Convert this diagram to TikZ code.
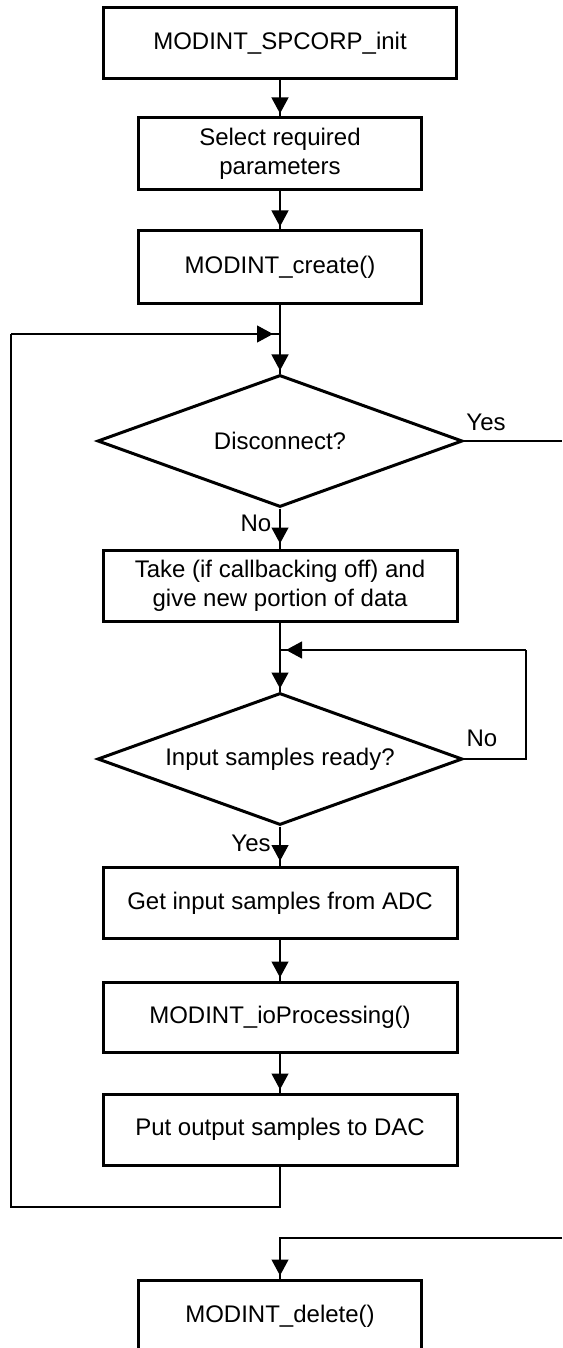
\documentclass[tikz,border=0pt]{standalone}
\usepackage{fontspec}
\setmainfont{Liberation Sans}
\usetikzlibrary{shapes.geometric,arrows.meta}
\begin{document}
\begin{tikzpicture}[x=1pt,y=-1pt,
  txt/.style={font=\fontsize{24}{29}\selectfont},
  box/.style={txt,draw,line width=3pt,minimum width=#1,minimum height=71pt,inner sep=0pt,align=center},
  box/.default=354pt,
  dec/.style={txt,diamond,draw,line width=3pt,minimum width=365pt,minimum height=132pt,aspect=2.77,inner sep=0pt},
  lbl/.style={txt,inner sep=0pt},
  conn/.style={line width=1.2pt},
  arr/.style={conn,-{Triangle[length=16pt,width=17pt]},shorten >=3pt}]
\useasboundingbox (0,0) rectangle (562,1348);
\fill[white] (0,0) rectangle (562,1348);

\node[box=353pt] (b1) at (280,43.5) {MODINT\_SPCORP\_init};
\node[box=283pt,minimum height=72pt] (b2) at (280,154) {Select required\\parameters};
\node[box=283pt,minimum height=72pt] (b3) at (280,267) {MODINT\_create()};
\node[dec] (d1) at (280,441) {Disconnect?};
\node[box] (b4) at (280,585.5) {Take (if callbacking off) and\\give new portion of data};
\node[dec] (d2) at (280,759) {Input samples ready?};
\node[box] (b5) at (280,903) {Get input samples from ADC};
\node[box,minimum height=70pt] (b6) at (280,1017) {MODINT\_ioProcessing()};
\node[box] (b7) at (280,1129.5) {Put output samples to DAC};
\node[box=283pt,minimum height=72pt] (b8) at (280,1316) {MODINT\_delete()};

\node[lbl] (yes1) at (486,422) {Yes};
\node[lbl] (no1) at (256,523) {No};
\node[lbl] (no2) at (482,738) {No};
\node[lbl] (yes2) at (251,843) {Yes};

\coordinate (j1) at (280,334);
\coordinate (j2) at (280,650);
\coordinate (c1) at (280,1207);
\coordinate (lb) at (11,1207);
\coordinate (lt) at (11,334);
\coordinate (r1) at (526,759);
\coordinate (r2) at (526,650);
\coordinate (ex1) at (562,441);
\coordinate (ex2) at (562,1238);
\coordinate (c2) at (280,1238);

% main flow
\draw[conn] (b1) -- (b2);
\draw[arr] (b1) -- (b2);
\draw[conn] (b2) -- (b3);
\draw[arr] (b2) -- (b3);
\draw[conn] (b3) -- (d1);
\draw[arr] (j1) -- (d1);
\draw[conn] (d1) -- (b4);
\draw[arr,shorten >=5pt] (d1) -- (b4);
\draw[conn] (b4) -- (d2);
\draw[arr] (j2) -- (d2);
\draw[conn] (d2) -- (b5);
\draw[arr,shorten >=5pt] (d2) -- (b5);
\draw[conn] (b5) -- (b6);
\draw[arr] (b5) -- (b6);
\draw[conn] (b6) -- (b7);
\draw[arr] (b6) -- (b7);

% outer loop
\draw[conn] (b7) -- (c1) -- (lb) -- (lt);
\draw[conn] (lt) -- (j1);
\draw[arr,shorten >=7pt] (lt) -- (j1);

% inner loop
\draw[conn] (d2.east) -- (r1) -- (r2);
\draw[conn] (r2) -- (j2);
\draw[arr,shorten >=6pt] (r2) -- (j2);

% exit
\draw[conn] (d1.east) -- (ex1);
\draw[conn] (ex2) -- (c2) -- (b8);
\draw[arr] (c2) -- (b8);
\end{tikzpicture}
\end{document}
